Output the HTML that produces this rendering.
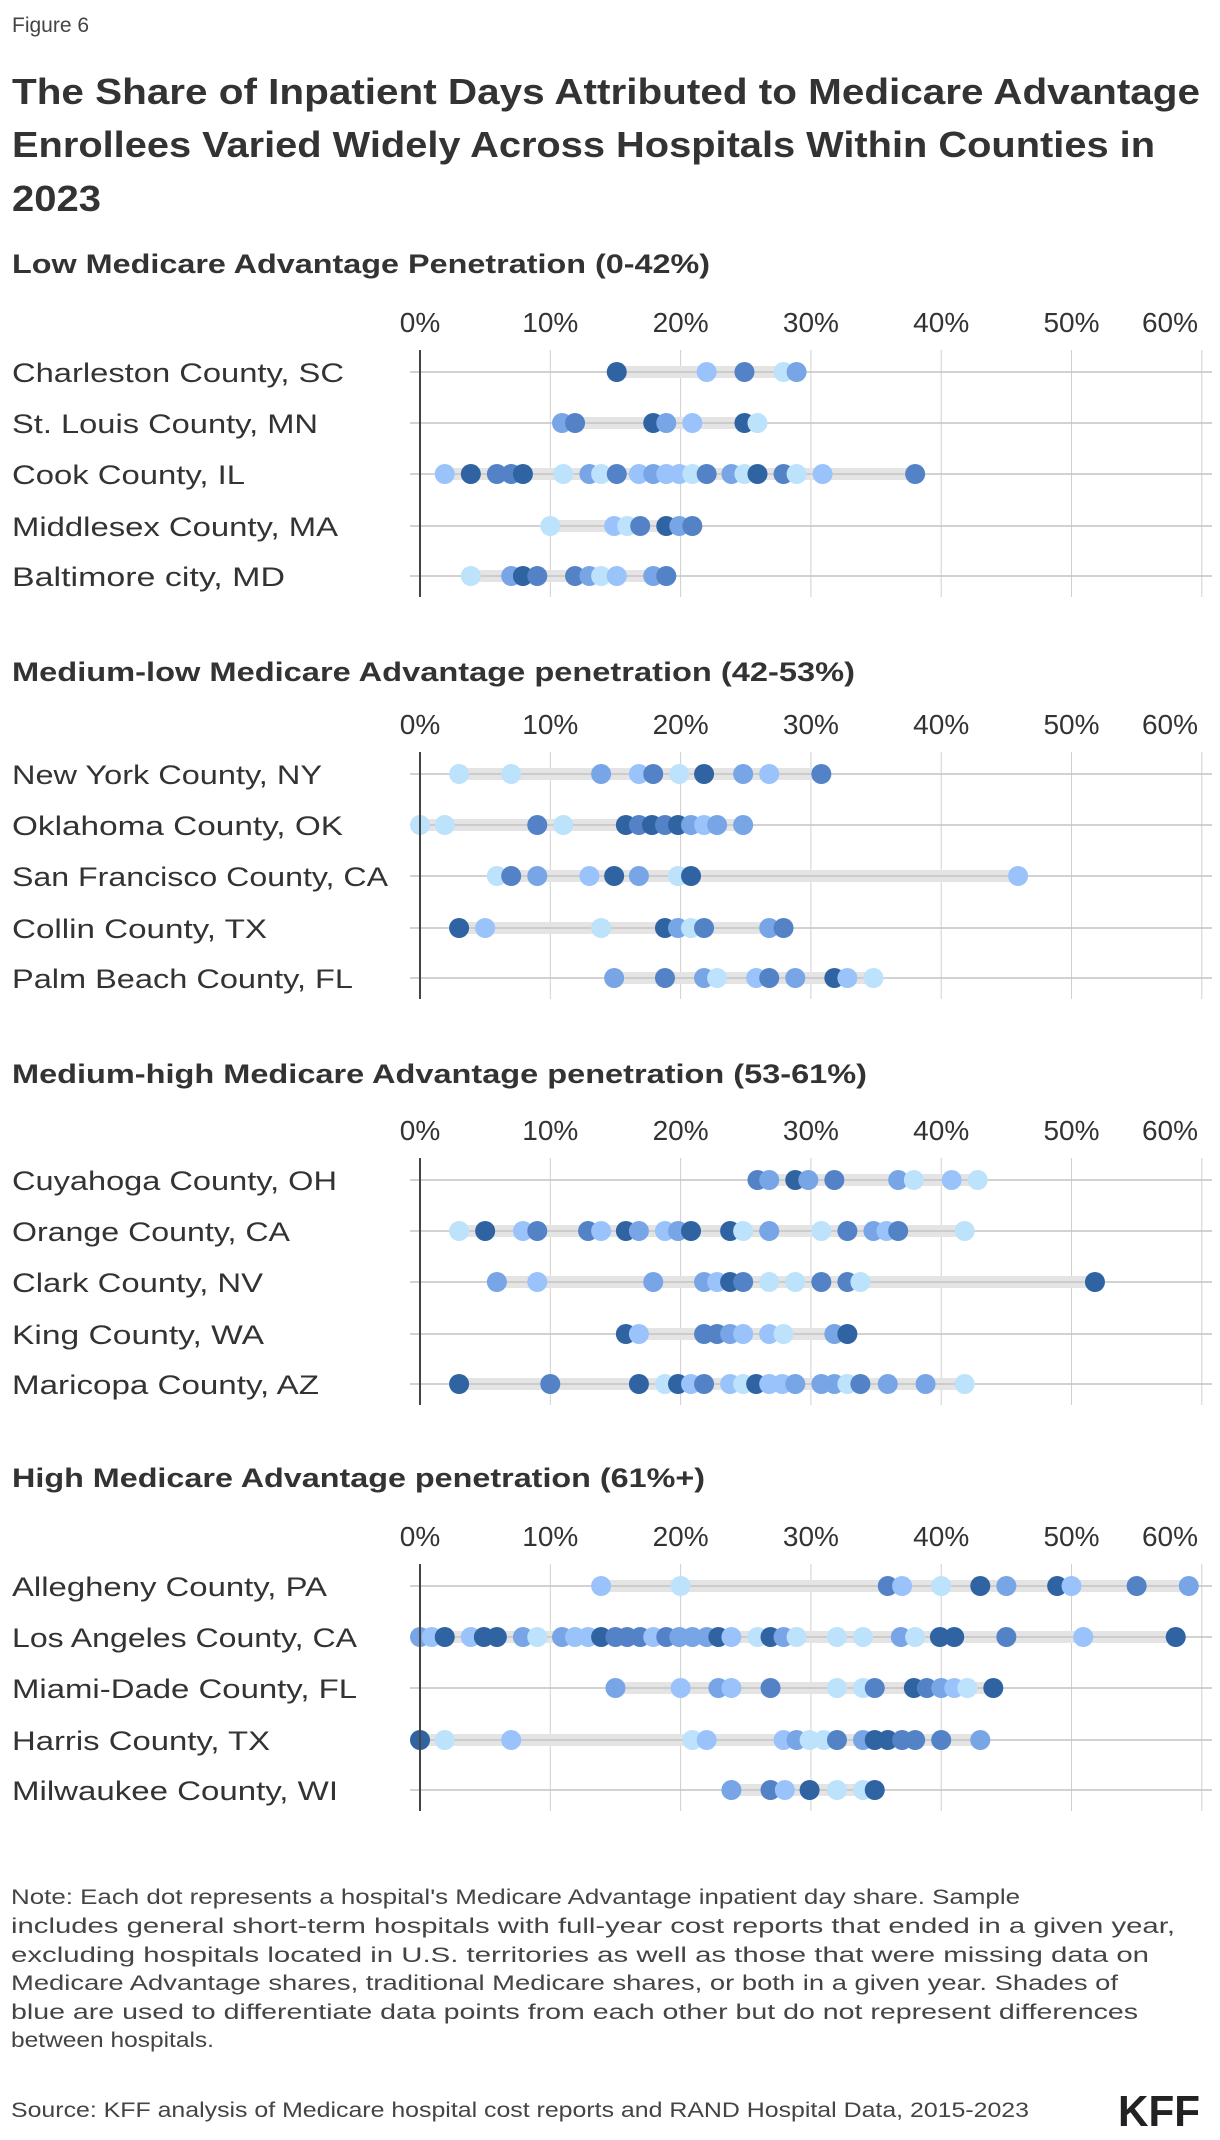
<!DOCTYPE html>
<html><head><meta charset="utf-8"><style>
html,body{margin:0;padding:0;background:#fff;}
svg{display:block;font-family:"Liberation Sans",sans-serif;}
</style></head><body>
<svg id="s" width="1220" height="2140" viewBox="0 0 1220 2140" xmlns="http://www.w3.org/2000/svg">
<text x="12" y="32" font-size="21" fill="#444">Figure 6</text>
<g font-weight="bold" font-size="36" fill="#333">
<text x="12" y="104" textLength="1188" lengthAdjust="spacingAndGlyphs">The Share of Inpatient Days Attributed to Medicare Advantage</text>
<text x="12" y="157" textLength="1143" lengthAdjust="spacingAndGlyphs">Enrollees Varied Widely Across Hospitals Within Counties in</text>
<text x="12" y="211" textLength="89" lengthAdjust="spacingAndGlyphs">2023</text>
</g>
<g font-size="27" font-weight="bold" fill="#333">
<text x="12" y="273" textLength="698" lengthAdjust="spacingAndGlyphs">Low Medicare Advantage Penetration (0-42%)</text>
<text x="12" y="681" textLength="843" lengthAdjust="spacingAndGlyphs">Medium-low Medicare Advantage penetration (42-53%)</text>
<text x="12" y="1083" textLength="855" lengthAdjust="spacingAndGlyphs">Medium-high Medicare Advantage penetration (53-61%)</text>
<text x="12" y="1487" textLength="693" lengthAdjust="spacingAndGlyphs">High Medicare Advantage penetration (61%+)</text>
</g>
<g id="charts"></g>
<g font-size="21" fill="#444">
<text x="11" y="1904" textLength="1009" lengthAdjust="spacingAndGlyphs">Note: Each dot represents a hospital's Medicare Advantage inpatient day share. Sample</text>
<text x="11" y="1933" textLength="1164" lengthAdjust="spacingAndGlyphs">includes general short-term hospitals with full-year cost reports that ended in a given year,</text>
<text x="11" y="1962" textLength="1138" lengthAdjust="spacingAndGlyphs">excluding hospitals located in U.S. territories as well as those that were missing data on</text>
<text x="11" y="1990" textLength="1107" lengthAdjust="spacingAndGlyphs">Medicare Advantage shares, traditional Medicare shares, or both in a given year. Shades of</text>
<text x="11" y="2019" textLength="1127" lengthAdjust="spacingAndGlyphs">blue are used to differentiate data points from each other but do not represent differences</text>
<text x="11" y="2047" textLength="203" lengthAdjust="spacingAndGlyphs">between hospitals.</text>
<text x="11" y="2117" textLength="1018" lengthAdjust="spacingAndGlyphs">Source: KFF analysis of Medicare hospital cost reports and RAND Hospital Data, 2015-2023</text>
</g>
<text x="1200" y="2126" text-anchor="end" font-size="44" font-weight="bold" fill="#222" textLength="82" lengthAdjust="spacingAndGlyphs">KFF</text>
</svg>
<script>
var C={d:"#2f63a2",m:"#5383c6",c:"#77a5e6",l:"#9ac3fb",t:"#bde2fc"};
var secs=[
{b:372,rows:[
["Charleston County, SC",332,[15.1,22,24.9,27.9,28.9],"dlmtc"],
["St. Louis County, MN",306,[10.9,11.9,17.9,18.9,20.9,24.9,25.9],"cmdcldt"],
["Cook County, IL",233,[1.9,3.9,5.9,7,7.9,11,13,13.9,15.1,16.8,17.9,18.9,19.9,20.9,22,23.9,24.9,25.9,27.9,28.9,30.9,38],"ldmmdtctmlclltmctdmtlm"],
["Middlesex County, MA",326,[10,14.9,15.9,16.9,18.9,19.9,20.9],"tltmdcm"],
["Baltimore city, MD",273,[3.9,7,7.9,9,11.9,13,13.9,15.1,17.9,18.9],"tcdmmctlcm"]]},
{b:774,rows:[
["New York County, NY",310,[3,7,13.9,16.8,17.9,19.9,21.8,24.8,26.8,30.8],"ttclmtdclm"],
["Oklahoma County, OK",331,[0,1.9,9,11,15.8,16.8,17.8,18.8,19.8,20.8,21.8,22.8,24.8],"ttmtdmdmdclcc"],
["San Francisco County, CA",376,[5.9,7,9,13,14.9,16.8,19.8,20.8,45.9],"tmcldctdl"],
["Collin County, TX",255,[3,5,13.9,18.8,19.8,20.8,21.8,26.8,27.9],"dltdctmcm"],
["Palm Beach County, FL",341,[14.9,18.8,21.8,22.8,25.8,26.8,28.8,31.8,32.8,34.8],"cmctlmcdlt"]]},
{b:1180,rows:[
["Cuyahoga County, OH",325,[25.9,26.8,28.8,29.8,31.8,36.7,37.9,40.8,42.8],"mcdcmctlt"],
["Orange County, CA",278,[3,5,7.9,9,12.9,13.9,15.8,16.8,18.8,19.8,20.8,23.8,24.8,26.8,30.8,32.8,34.8,35.8,36.7,41.8],"tdlmmldclcddtctmclmt"],
["Clark County, NV",251,[5.9,9,17.9,21.8,22.8,23.8,24.8,26.8,28.8,30.8,32.8,33.8,51.8],"clccldmttmmtd"],
["King County, WA",252,[15.8,16.8,21.8,22.8,23.8,24.8,26.8,27.9,31.8,32.8],"dlmmclltcd"],
["Maricopa County, AZ",307,[3,10,16.8,18.8,19.8,20.8,21.8,23.8,24.8,25.8,26.8,27.8,28.8,30.8,31.8,32.8,33.8,35.9,38.8,41.8],"dmdtdlmltdllccctmcct"]]},
{b:1586,rows:[
["Allegheny County, PA",315,[13.9,20,35.9,37,40,43,45,48.9,50,55,59],"ltmltdcdlmc"],
["Los Angeles County, CA",345,[0,0.9,1.9,3.9,4.9,5.9,7.9,9,10.9,11.9,12.9,13.9,15,15.9,16.9,17.9,18.9,19.9,20.9,22,22.9,23.9,25.9,26.9,27.9,28.9,32,34,36.9,38,39.9,41,45,50.9,58],"cldlddctclldmmmlmcccdltdctttctddmld"],
["Miami-Dade County, FL",345,[15,20,22.9,23.9,26.9,32,34,34.9,37.9,38.9,40,41,42,44],"clclmttmdmcltd"],
["Harris County, TX",258,[0,1.9,7,20.9,22,27.9,28.9,29.9,31,32,34,34.9,35.9,37,38,40,43],"dtltllcttmcddmmmc"],
["Milwaukee County, WI",326,[23.9,26.9,28,29.9,32,34,34.9],"cmldttd"]]}];
var ns="http://www.w3.org/2000/svg",g=document.getElementById("charts");
function el(t,a,txt){var e=document.createElementNS(ns,t);for(var k in a)e.setAttribute(k,a[k]);if(txt)e.textContent=txt;g.appendChild(e);return e;}
function X(v){return 420+v*13.03;}
var rowOff=[0,51,102,154,204];
secs.forEach(function(s){
  var b=s.b;
  for(var i=1;i<=6;i++)el("line",{x1:X(i*10),x2:X(i*10),y1:b-22,y2:b+225,stroke:"#d0d0d0","stroke-width":1});
  var labs=["0%","10%","20%","30%","40%","50%","60%"];
  labs.forEach(function(l,i){var x=i==6?1170:X(i*10);el("text",{x:x,y:b-40,"text-anchor":"middle","font-size":28,fill:"#333"},l);});
  s.rows.forEach(function(r,j){
    var y=b+rowOff[j];
    el("text",{x:12,y:y+10,"font-size":27,fill:"#333",textLength:r[1],lengthAdjust:"spacingAndGlyphs"},r[0]);
    var vs=r[2],mn=Math.min.apply(null,vs),mx=Math.max.apply(null,vs);
    el("rect",{x:X(mn),y:y-6,width:X(mx)-X(mn),height:12,fill:"#e4e4e4"});
    el("line",{x1:410,x2:1212,y1:y,y2:y,stroke:"#c4c4c4","stroke-width":1.5});
    vs.forEach(function(v,k){el("circle",{cx:X(v),cy:y,r:10,fill:C[r[3][k]]||C.m});});
  });
  el("line",{x1:420,x2:420,y1:b-22,y2:b+225,stroke:"#444","stroke-width":2});
});
</script>
</body></html>
